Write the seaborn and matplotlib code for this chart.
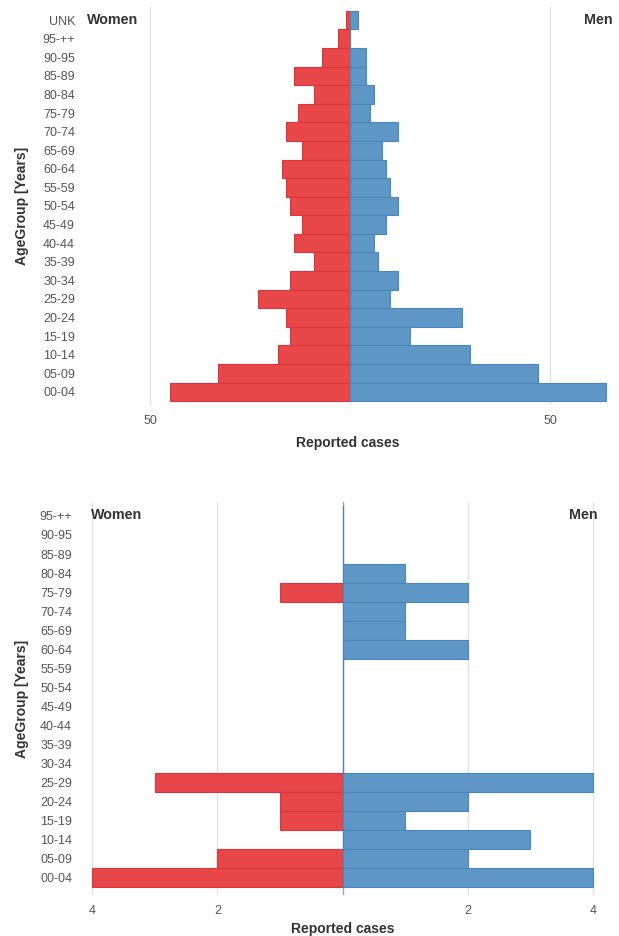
import pandas as pd
import seaborn as sns
import matplotlib.pyplot as plt

# Age groups (top to bottom)
ages_top = ['UNK', '95-++', '90-95', '85-89', '80-84', '75-79', '70-74', '65-69',
            '60-64', '55-59', '50-54', '45-49', '40-44', '35-39', '30-34', '25-29',
            '20-24', '15-19', '10-14', '05-09', '00-04']
women_top = [1, 3, 7, 14, 9, 13, 16, 12, 17, 16, 15, 12, 14, 9, 15, 23, 16, 15, 18, 33, 45]
men_top = [2, 0, 4, 4, 6, 5, 12, 8, 9, 10, 12, 9, 6, 7, 12, 10, 28, 15, 30, 47, 64]

ages_bottom = ages_top[1:]
women_bottom = [0, 0, 0, 0, 1, 0, 0, 0, 0, 0, 0, 0, 0, 0, 3, 1, 1, 0, 2, 4]
men_bottom = [0, 0, 0, 1, 2, 1, 1, 2, 0, 0, 0, 0, 0, 0, 4, 2, 1, 3, 2, 4]

RED, RED_EDGE = '#E8474A', '#D9353A'
BLUE, BLUE_EDGE = '#5E97C6', '#4A86BA'
TEXT = '#333333'
TICK = '#555555'

sns.set_style('white')
plt.rcParams['font.family'] = ['Liberation Sans', 'DejaVu Sans']

fig = plt.figure(figsize=(6.19, 9.36), dpi=100)
W, H = 619, 936


def px_axes(left, top, right, bottom):
    return fig.add_axes([left / W, 1 - bottom / H, (right - left) / W, (bottom - top) / H])


def pyramid(ax, ages, women, men, ticks, xlim, ylim, center_color, ylab_x, xlab_y, ytick_pad):
    df_w = pd.DataFrame({'age': ages, 'cases': [-v for v in women]})
    df_m = pd.DataFrame({'age': ages, 'cases': men})
    sns.barplot(data=df_w, y='age', x='cases', order=ages, color=RED, saturation=1,
                edgecolor=RED_EDGE, linewidth=0.8, width=1, errorbar=None, ax=ax, zorder=3)
    sns.barplot(data=df_m, y='age', x='cases', order=ages, color=BLUE, saturation=1,
                edgecolor=BLUE_EDGE, linewidth=0.8, width=1, errorbar=None, ax=ax, zorder=3)
    ax.set_xlim(*xlim)
    ax.set_ylim(*ylim)
    for t in ticks:
        if t == 0:
            ax.axvline(0, color=center_color, lw=1, zorder=2)
        else:
            ax.axvline(t, color='#e2e2e2', lw=1, zorder=1)
    ax.set_xticks(ticks)
    ax.set_xticklabels(['' if t == 0 else str(abs(t)) for t in ticks])
    ax.tick_params(axis='x', length=0, pad=7, labelsize=9, labelcolor=TICK)
    ax.tick_params(axis='y', length=0, pad=ytick_pad, labelsize=9, labelcolor=TICK)
    sns.despine(ax=ax, left=True, bottom=True)
    ax.set_xlabel('Reported cases', fontsize=10, fontweight='bold', color=TEXT)
    ax.set_ylabel('AgeGroup [Years]', fontsize=10, fontweight='bold', color=TEXT)
    ax.xaxis.set_label_coords(0.5, xlab_y)
    ax.yaxis.set_label_coords(ylab_x, 0.5)
    ax.text(0.01, 0.967, 'Women', transform=ax.transAxes, ha='left', va='center',
            fontsize=10.3, fontweight='bold', color=TEXT)
    ax.text(0.998, 0.967, 'Men', transform=ax.transAxes, ha='right', va='center',
            fontsize=10.3, fontweight='bold', color=TEXT)


ax1 = px_axes(82, 7, 614, 405)
pyramid(ax1, ages_top, women_top, men_top, [-50, 0, 50], (-67, 66), (20.7, -0.7),
        '#e6e6e6', -0.1, -0.078, 5)

ax2 = px_axes(86, 502, 599, 895)
pyramid(ax2, ages_bottom, women_bottom, men_bottom, [-4, -2, 0, 2, 4], (-4.1, 4.1),
        (19.9, -0.73), '#9a9cc2', -0.111, -0.068, 10)

plt.savefig('out.png', dpi=100)
